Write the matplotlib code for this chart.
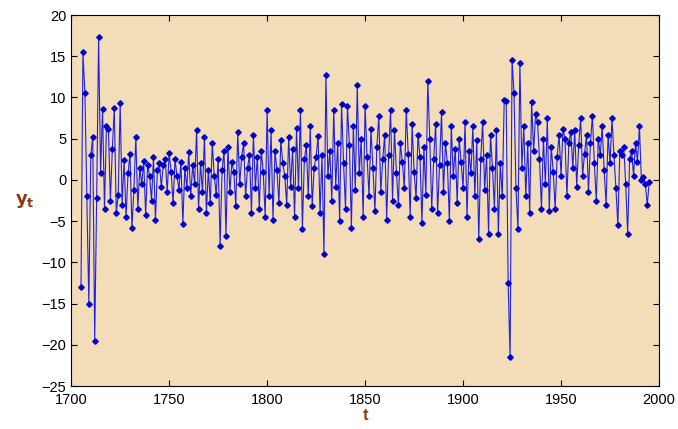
import numpy as np
import matplotlib
matplotlib.use('Agg')
import matplotlib.pyplot as plt

# yearly values, 1705 .. 1995
years = np.arange(1705, 1996)
y_1705 = [-13.0, 15.5, 10.5, -2.0, -15.0]
y_1710 = [3.0, 5.2, -19.5, -2.2, 17.3, 0.8, 8.6, -3.5, 6.5, 6.2]
y_1720 = [-2.5, 3.8, 8.7, -4.0, -1.8, 9.3, -3.0, 2.4, -4.5, 0.8]
y_1730 = [3.2, -5.8, -1.2, 5.2, -3.5, 1.4, -0.5, 2.3, -4.2, 1.8]
y_1740 = [0.5, -2.5, 2.8, -4.8, 1.2, 2.0, -0.8, 1.8, 2.5, -1.5]
y_1750 = [3.3, 1.0, -2.8, 2.5, 0.5, -1.2, 2.2, -5.3, 1.5, -1.0]
y_1760 = [3.4, -2.0, 1.8, -0.5, 6.0, -3.5, 2.0, -1.5, 5.2, -4.0]
y_1770 = [1.2, -2.8, 4.5, 0.5, -1.8, 2.5, -8.0, 1.2, 3.5, -6.8]
y_1780 = [4.0, -1.5, 2.2, 1.0, -3.2, 5.8, -0.5, 2.8, 4.5, -2.0]
y_1790 = [1.5, 3.0, -4.0, 5.5, -1.0, 2.8, -3.5, 3.5, 1.0, -4.5]
y_1800 = [8.5, -2.0, 6.0, -4.8, 3.5, 1.2, -2.8, 4.8, 2.0, 0.5]
y_1810 = [-3.0, 5.2, -0.8, 3.8, -4.5, 6.3, -1.0, 8.5, -6.0, 2.5]
y_1820 = [4.2, -2.0, 6.5, -3.2, 1.5, 2.8, 5.3, -4.0, 3.0, -9.0]
y_1830 = [12.7, 0.5, 3.5, -2.5, 8.5, -0.8, 4.5, -5.0, 9.2, 2.0]
y_1840 = [-3.5, 9.0, 4.2, -5.8, 6.5, -1.2, 11.5, 0.8, 5.0, -4.5]
y_1850 = [9.0, 2.8, -2.0, 6.2, 1.5, -3.8, 4.0, 7.8, -1.5, 2.5]
y_1860 = [5.5, -4.8, 3.0, 8.5, -2.5, 6.0, 0.8, -3.0, 4.5, 2.2]
y_1870 = [-1.0, 8.5, 3.2, -4.5, 6.8, 1.0, -2.2, 5.5, 2.8, -5.2]
y_1880 = [4.0, -1.8, 12.0, 5.0, -3.5, 2.5, 6.8, -4.0, 1.8, 8.2]
y_1890 = [-1.5, 4.5, 2.0, -5.0, 6.5, 0.5, 3.8, -2.8, 5.0, 2.2]
y_1900 = [-1.0, 7.0, -4.5, 3.5, 0.8, 6.5, -2.0, 4.8, -7.2, 2.5]
y_1910 = [7.0, -1.2, 3.0, -6.5, 5.5, 1.5, -3.5, 6.0, -6.5, 2.0]
y_1920 = [-2.0, 9.7, 9.6, -12.5, -21.5, 14.5, 10.5, -1.0, -6.0, 14.2]
y_1930 = [1.5, 6.5, -2.0, 4.5, -4.0, 9.5, 3.5, 8.0, 7.0, 2.5]
y_1940 = [-3.5, 5.0, -0.5, 7.5, -3.8, 4.0, 1.0, -3.5, 2.8, 5.5]
y_1950 = [0.5, 6.2, 5.0, -2.0, 4.5, 5.8, 1.5, 6.0, -0.8, 4.2]
y_1960 = [7.5, 0.5, 3.2, 5.5, -1.5, 4.5, 7.8, 2.0, -2.5, 5.0]
y_1970 = [3.0, 6.5, 1.2, -3.0, 5.5, 2.0, 7.5, 3.0, -1.0, -5.5]
y_1980 = [3.5, 3.0, 4.0, -0.5, -6.5, 2.5, 3.5, 0.5, 4.5, 2.2]
y_1990 = [6.5, 0.0, 0.3, -0.5, -3.0, -0.2]

values = (y_1705 + y_1710 + y_1720 + y_1730 + y_1740 + y_1750 + y_1760
          + y_1770 + y_1780 + y_1790 + y_1800 + y_1810 + y_1820 + y_1830
          + y_1840 + y_1850 + y_1860 + y_1870 + y_1880 + y_1890 + y_1900
          + y_1910 + y_1920 + y_1930 + y_1940 + y_1950 + y_1960 + y_1970
          + y_1980 + y_1990)

plt.rcParams['font.family'] = ['Liberation Sans', 'DejaVu Sans']

fig = plt.figure(figsize=(6.78, 4.29), dpi=100, facecolor='white')
ax = fig.add_axes([0.105, 0.10, 0.867, 0.865])
ax.set_facecolor('#F3DDB8')

ax.plot(years, values, color='#2020E0', lw=0.8, marker='D', ms=2.8,
        mec='#0000CC', mfc='#0000CC')

ax.set_xlim(1700, 2000)
ax.set_ylim(-25, 20)
ax.set_xticks(np.arange(1700, 2001, 50))
ax.set_yticks(np.arange(-25, 21, 5))
ax.tick_params(direction='in', top=True, right=True, labelsize=10.5,
               length=4)
ax.tick_params(axis='x', pad=5)

ax.set_xlabel('t', color='#8B3A0F', fontsize=12, fontweight='bold',
              labelpad=1)
ax.set_ylabel(r'$\mathbf{y_t}$', color='#8B3A0F', fontsize=13, rotation=0,
              labelpad=12, va='center')

fig.savefig('out.png', dpi=100)
